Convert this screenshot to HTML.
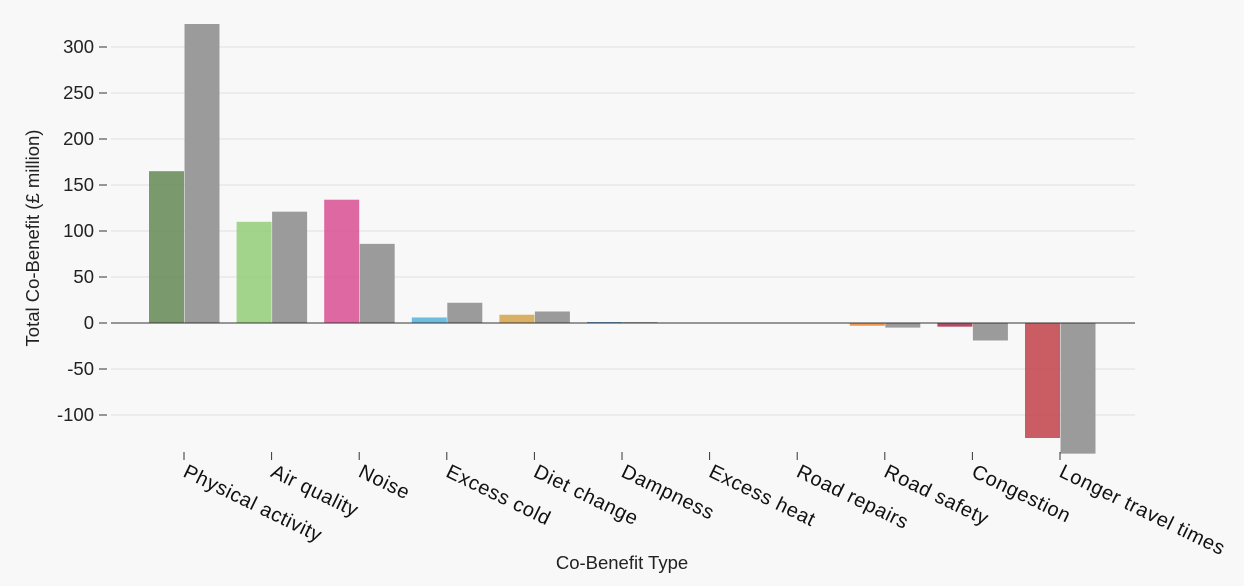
<!DOCTYPE html>
<html><head><meta charset="utf-8">
<style>
html,body{margin:0;padding:0;background:#f8f8f8;}
svg{display:block;font-family:"Liberation Sans",sans-serif;}
</style></head>
<body>
<svg id="chart" width="1244" height="586"></svg>
<script>
const categories = ["Physical activity","Air quality","Noise","Excess cold","Diet change","Dampness","Excess heat","Road repairs","Road safety","Congestion","Longer travel times"];
const seriesA = [165,110,134,6,9,1,0,0,-3,-4,-125];
const seriesB = [325,121,86,22,12.5,1,0,-0.5,-5,-19,-142];
const colorsA = ["#6b8f5e","#98cf7e","#da5898","#5db6dd","#d6a757","#2f74b5","#8aa","#999","#ef8a3e","#a63a55","#c44a52"];
const yTicks = [-100,-50,0,50,100,150,200,250,300];

const svg = document.getElementById('chart');
const NS = 'http://www.w3.org/2000/svg';
const left = 105, right = 1135, step = 87.6, firstTick = 184;
const y = v => 323 - v * 0.92;
const xTick = i => firstTick + i * step;
function mk(tag, attrs){const e=document.createElementNS(NS,tag);for(const k in attrs)e.setAttribute(k,attrs[k]);svg.appendChild(e);return e;}

yTicks.forEach(t=>{
  const g = mk('line',{x1:left+6,x2:right,y1:y(t),y2:y(t),stroke:'#e0e0e0','stroke-width':1});
  
  
  const tk = mk('line',{x1:left-6,x2:left+2,y1:y(t),y2:y(t),stroke:'#333'});
  
  
  const tx = mk('text',{x:left-11,y:y(t)+6,'text-anchor':'end','font-size':18.5,fill:'#222'});
  tx.textContent = t;
  
  
});

categories.forEach((c,i)=>{
  const xc = xTick(i);
  const a = seriesA[i], b = seriesB[i];
  const ra = mk('rect',{x:xc-35,width:35,y:Math.min(y(a),y(0)),height:Math.abs(y(a)-y(0)),fill:colorsA[i],opacity:0.9});
  
  
  const rb = mk('rect',{x:xc+0.5,width:35,y:Math.min(y(b),y(0)),height:Math.abs(y(b)-y(0)),fill:'#9b9b9b'});
  
  
  const tk = mk('line',{x1:xc,x2:xc,y1:452,y2:460,stroke:'#333'});
  
  
  const tx = mk('text',{x:0,y:0,'font-size':20,'letter-spacing':0.6,fill:'#111',transform:`translate(${xc-2},${476}) rotate(26)`});
  tx.textContent = c;
  
  
});

const zl = mk('line',{x1:left+6,x2:right,y1:y(0),y2:y(0),stroke:'#333'});



const yt = mk('text',{x:0,y:0,'font-size':18.5,fill:'#222','text-anchor':'middle',transform:'translate(39,238) rotate(-90)'});
yt.textContent = 'Total Co-Benefit (£ million)';


const xt = mk('text',{x:622,y:569,'font-size':18.5,fill:'#222','text-anchor':'middle'});
xt.textContent = 'Co-Benefit Type';


</script>
</body></html>
